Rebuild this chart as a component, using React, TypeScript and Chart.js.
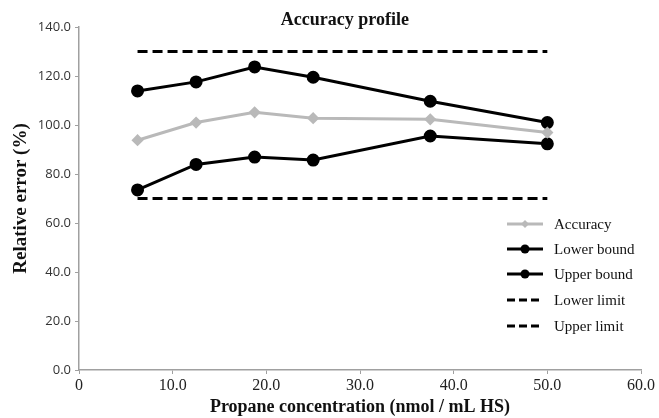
import React, { useEffect, useRef } from 'react';
import { Chart, registerables } from 'chart.js';

Chart.register(...registerables);

const concentrations = [6.25, 12.5, 18.75, 25, 37.5, 50];
const accuracy = [93.8, 101.0, 105.2, 102.8, 102.3, 96.9];
const lowerBound = [73.5, 83.9, 86.9, 85.7, 95.5, 92.3];
const upperBound = [113.9, 117.6, 123.7, 119.5, 109.7, 101.0];
const limitX = [6.25, 50];
const lowerLimit = [70, 70];
const upperLimit = [130, 130];
const seriesNames = ['Accuracy', 'Lower bound', 'Upper bound', 'Lower limit', 'Upper limit'];
const chartTitle = 'Accuracy profile';
const xTitle = 'Propane concentration (nmol / mL HS)';
const yTitle = 'Relative error (%)';

const SERIF = '"Liberation Serif", "Times New Roman", serif';
const SANS = '"Open Sans", "Liberation Sans", sans-serif';

const toPts = (xs: number[], ys: number[]) => xs.map((x, i) => ({ x, y: ys[i] }));

const overlayPlugin = {
  id: 'overlay',
  afterDraw(chart: any) {
    const ctx = chart.ctx;
    const ca = chart.chartArea;
    ctx.save();
    // title
    ctx.fillStyle = '#111';
    ctx.font = `bold 18px ${SERIF}`;
    ctx.textAlign = 'center';
    ctx.textBaseline = 'middle';
    ctx.fillText(chartTitle, ca.left + (ca.right - ca.left) * 0.473, 20);

    // legend
    const x0 = ca.right - 134;
    const x1 = ca.right - 98;
    const tx = ca.right - 87;
    const ys = [224, 249, 274, 300, 326];
    chart.data.datasets.forEach((ds: any, i: number) => {
      const y = ys[i];
      ctx.save();
      ctx.strokeStyle = ds.borderColor;
      ctx.lineWidth = ds.borderWidth;
      ctx.setLineDash(ds.borderDash ? [8, 4] : []);
      ctx.beginPath();
      ctx.moveTo(x0, y);
      ctx.lineTo(x1, y);
      ctx.stroke();
      ctx.setLineDash([]);
      const mx = (x0 + x1) / 2;
      if (ds.pointRadius > 0) {
        ctx.fillStyle = ds.pointBackgroundColor;
        ctx.beginPath();
        if (ds.pointStyle === 'rectRot') {
          const r = ds.pointRadius;
          ctx.moveTo(mx, y - r);
          ctx.lineTo(mx + r, y);
          ctx.lineTo(mx, y + r);
          ctx.lineTo(mx - r, y);
          ctx.closePath();
        } else {
          ctx.arc(mx, y, ds.pointRadius - 0.5, 0, Math.PI * 2);
        }
        ctx.fill();
      }
      ctx.restore();
      ctx.fillStyle = '#111';
      ctx.font = `15px ${SERIF}`;
      ctx.textAlign = 'left';
      ctx.textBaseline = 'middle';
      ctx.fillText(ds.label, tx, y + 1);
    });
    ctx.restore();
  },
};

export default function App() {
  const ref = useRef<HTMLCanvasElement | null>(null);

  useEffect(() => {
    document.body.style.margin = '0';
    if (!ref.current) return;
    const boundStyle = {
      borderColor: '#000',
      backgroundColor: '#000',
      pointBackgroundColor: '#000',
      pointBorderColor: '#000',
      borderWidth: 3,
      pointRadius: 5,
      pointStyle: 'circle',
    };
    const limitStyle = {
      borderColor: '#000',
      backgroundColor: '#000',
      borderWidth: 3,
      borderDash: [10, 5],
      pointRadius: 0,
    };
    const chart = new Chart(ref.current, {
      type: 'scatter',
      data: {
        datasets: [
          {
            label: seriesNames[0],
            data: toPts(concentrations, accuracy),
            showLine: true,
            borderColor: '#b9b9b9',
            backgroundColor: '#b9b9b9',
            pointBackgroundColor: '#b9b9b9',
            pointBorderColor: '#b9b9b9',
            borderWidth: 3,
            pointRadius: 4,
            pointStyle: 'rectRot',
          },
          { label: seriesNames[1], data: toPts(concentrations, lowerBound), showLine: true, ...boundStyle },
          { label: seriesNames[2], data: toPts(concentrations, upperBound), showLine: true, ...boundStyle },
          { label: seriesNames[3], data: toPts(limitX, lowerLimit), showLine: true, ...limitStyle },
          { label: seriesNames[4], data: toPts(limitX, upperLimit), showLine: true, ...limitStyle },
        ] as any,
      },
      options: {
        animation: false,
        responsive: false,
        maintainAspectRatio: false,
        layout: { padding: { top: 27, right: 18, left: 0, bottom: 0 } },
        plugins: {
          legend: { display: false },
          tooltip: { enabled: false },
          title: { display: false },
        },
        scales: {
          x: {
            type: 'linear',
            min: 0,
            max: 60,
            ticks: {
              stepSize: 10,
              color: '#222',
              font: { family: SERIF, size: 16 },
              padding: 2,
              maxRotation: 0,
              callback: (v: any) => (Number(v) === 0 ? '0' : Number(v).toFixed(1)),
            },
            grid: { display: true, drawOnChartArea: false, drawTicks: true, tickLength: 4, color: '#a0a0a0', lineWidth: 1 },
            border: { display: true, color: '#a0a0a0', width: 1.5 },
            title: {
              display: true,
              text: xTitle,
              color: '#111',
              font: { family: SERIF, size: 18, weight: 'bold' },
              padding: { top: 0, bottom: 0 },
            },
            afterFit: (s: any) => {
              s.height = 48;
            },
          },
          y: {
            type: 'linear',
            min: 0,
            max: 140,
            ticks: {
              stepSize: 20,
              color: '#333',
              font: { family: SANS, size: 13 },
              padding: 4,
              callback: (v: any) => Number(v).toFixed(1),
            },
            grid: { display: true, drawOnChartArea: false, drawTicks: true, tickLength: 4, color: '#a0a0a0', lineWidth: 1 },
            border: { display: true, color: '#a0a0a0', width: 1.5 },
            title: {
              display: true,
              text: yTitle,
              color: '#111',
              font: { family: SERIF, size: 19, weight: 'bold' },
              padding: { top: 10, bottom: 0 },
            },
            afterFit: (s: any) => {
              s.width = 79;
            },
          },
        },
      } as any,
      plugins: [overlayPlugin],
    });
    return () => chart.destroy();
  }, []);

  return (
    <div style={{ width: 659, height: 418, background: '#fff' }}>
      <canvas ref={ref} width={659} height={418} style={{ display: 'block' }} />
    </div>
  );
}
